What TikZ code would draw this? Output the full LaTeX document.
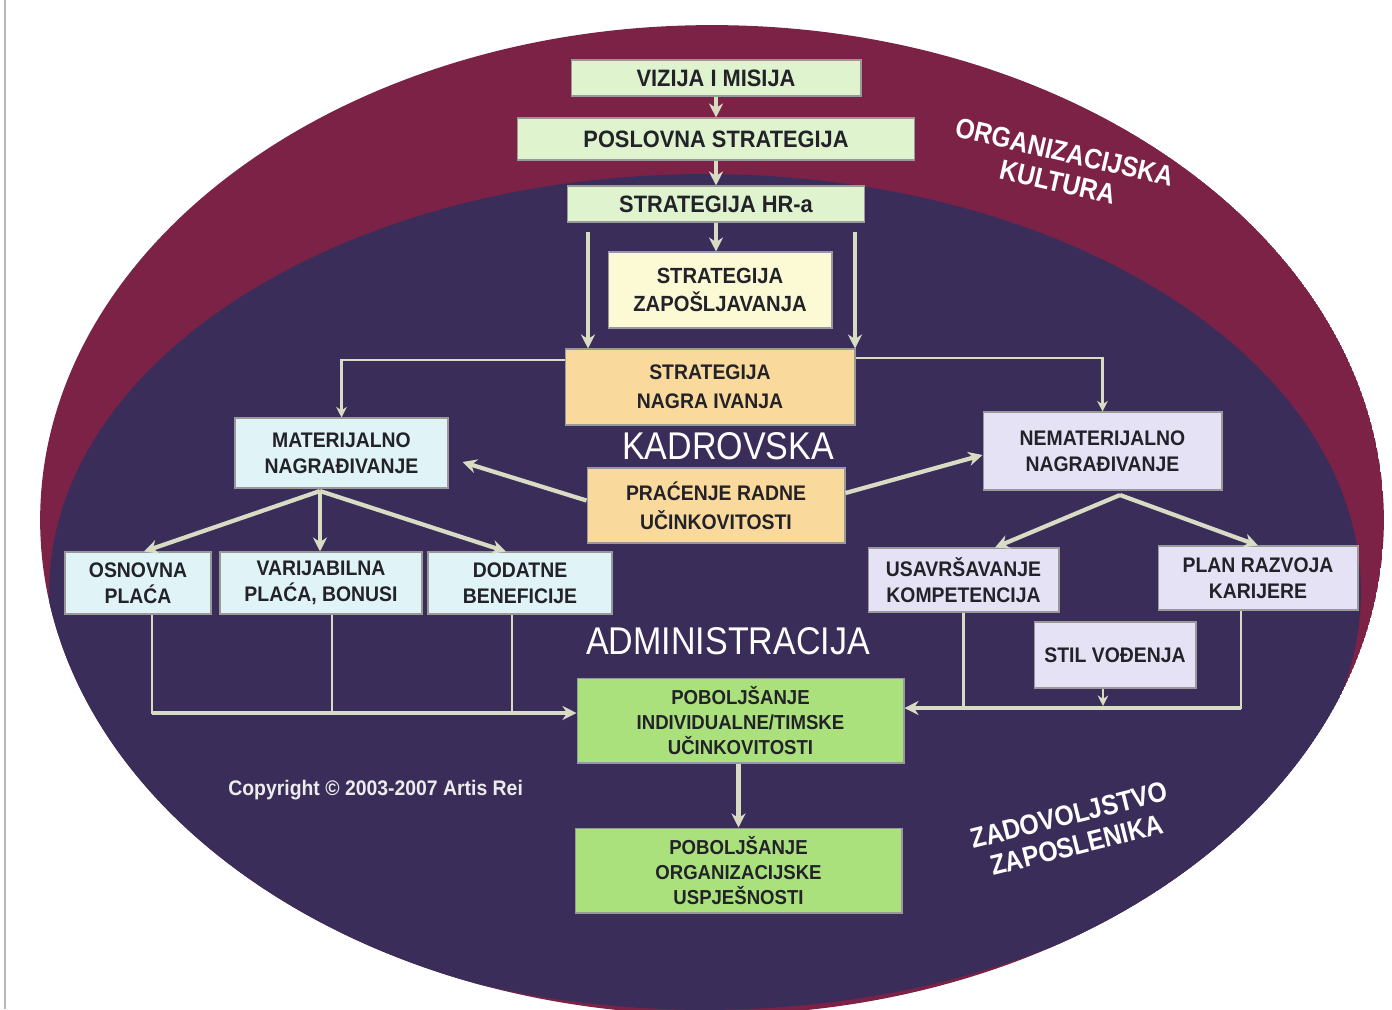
\documentclass[tikz,border=0pt]{standalone}
\usepackage{fontspec}
\setmainfont{Liberation Sans}
\newfontfamily\boxfont{Liberation Sans}[FakeStretch=0.92]
\newfontfamily\labelfont{Liberation Sans}[FakeStretch=0.88]
\usetikzlibrary{shapes, arrows.meta, positioning}

\definecolor{orgred}{RGB}{124,34,70}
\definecolor{hrnavy}{RGB}{59,45,90}
\definecolor{pgreen}{RGB}{222,243,206}
\definecolor{pyellow}{RGB}{252,250,212}
\definecolor{peach}{RGB}{249,218,156}
\definecolor{pcyan}{RGB}{224,244,248}
\definecolor{plilac}{RGB}{230,226,246}
\definecolor{mgreen}{RGB}{170,225,125}
\definecolor{arrowc}{RGB}{216,220,196}
\definecolor{ink}{RGB}{34,34,40}

\begin{document}
\begin{tikzpicture}[x=0.02cm, y=-0.02cm, >={Stealth[length=8pt, width=8pt]}, every node/.style={align=center, inner sep=0pt}]

    % Define block styles
    \tikzstyle{topbox} = [rectangle, fill=pgreen, draw=black!40, line width=0.6pt, text=ink, font=\boxfont\bfseries\fontsize{13.5}{16}\selectfont]
    \tikzstyle{hrbox} = [rectangle, draw=black!40, line width=0.6pt, text=ink, font=\boxfont\bfseries\fontsize{12}{14.5}\selectfont]
    \tikzstyle{biglabel} = [text=white, font=\labelfont\fontsize{22}{24}\selectfont]
    \tikzstyle{ringlabel} = [text=white, font=\labelfont\bfseries\fontsize{16}{17.5}\selectfont]
    \tikzstyle{flowarrow} = [line width=2.4pt, ->, draw=arrowc]
    \tikzstyle{flowline} = [line width=1.3pt, draw=arrowc, >={Stealth[length=6pt, width=6pt]}]

    % Background rings
    \useasboundingbox (0,0) rectangle (1392,1009);
    \fill[white] (0,0) rectangle (1392,1009);
    \draw[gray!55, line width=1pt] (5,0) -- (5,1009);
    \begin{scope}
        \clip (712,520) ellipse [x radius=13.44cm, y radius=9.9cm];
        \fill[orgred] (712,520) ellipse [x radius=13.44cm, y radius=9.9cm];
        \fill[hrnavy] (705,592) ellipse [x radius=13.12cm, y radius=8.36cm];
    \end{scope}

    % Place nodes
    \node (vision) [topbox, minimum width=5.8cm, minimum height=0.72cm] at (716,78) {VIZIJA I MISIJA};
    \node (business) [topbox, minimum width=7.94cm, minimum height=0.84cm, below of=vision, node distance=1.22cm] {POSLOVNA STRATEGIJA};
    \node (hrstrat) [topbox, minimum width=5.94cm, minimum height=0.72cm, below of=business, node distance=1.3cm] {STRATEGIJA HR-a};
    \node (hiring) [hrbox, fill=pyellow, minimum width=4.48cm, minimum height=1.52cm, font=\boxfont\bfseries\fontsize{12.5}{15.5}\selectfont] at (720,290) {STRATEGIJA\\ZAPOŠLJAVANJA};
    \node (reward) [hrbox, fill=peach, minimum width=5.8cm, minimum height=1.52cm, font=\boxfont\bfseries\fontsize{12}{16.5}\selectfont] at (710,387) {STRATEGIJA\\NAGRA IVANJA};
    \node (staffing) [biglabel] at (728,446) {KADROVSKA};
    \node (tracking) [hrbox, fill=peach, minimum width=5.16cm, minimum height=1.5cm, font=\boxfont\bfseries\fontsize{12}{16.5}\selectfont] at (716,505.5) {PRAĆENJE RADNE\\UČINKOVITOSTI};
    \node (material) [hrbox, fill=pcyan, minimum width=4.26cm, minimum height=1.4cm] at (341.5,453) {MATERIJALNO\\NAGRAĐIVANJE};
    \node (nonmaterial) [hrbox, fill=plilac, minimum width=4.78cm, minimum height=1.56cm] at (1102.5,451) {NEMATERIJALNO\\NAGRAĐIVANJE};
    \node (basepay) [hrbox, fill=pcyan, minimum width=2.92cm, minimum height=1.24cm] at (138,583) {OSNOVNA\\PLAĆA};
    \node (varpay) [hrbox, fill=pcyan, minimum width=4.04cm, minimum height=1.24cm] at (321,583) {VARIJABILNA\\PLAĆA, BONUSI};
    \node (benefits) [hrbox, fill=pcyan, minimum width=3.68cm, minimum height=1.24cm] at (520,583) {DODATNE\\BENEFICIJE};
    \node (training) [hrbox, fill=plilac, minimum width=3.82cm, minimum height=1.28cm] at (963.5,580) {USAVRŠAVANJE\\KOMPETENCIJA};
    \node (career) [hrbox, fill=plilac, minimum width=4cm, minimum height=1.28cm] at (1258,578) {PLAN RAZVOJA\\KARIJERE};
    \node (leading) [hrbox, fill=plilac, minimum width=3.24cm, minimum height=1.32cm] at (1115,655) {STIL VOĐENJA};
    \node (admin) [biglabel] at (728,641) {ADMINISTRACIJA};
    \node (teamperf) [hrbox, fill=mgreen, minimum width=6.54cm, minimum height=1.7cm, font=\boxfont\bfseries\fontsize{11.5}{14}\selectfont] at (740.5,720.5) {POBOLJŠANJE\\INDIVIDUALNE/TIMSKE\\UČINKOVITOSTI};
    \node (orgperf) [hrbox, fill=mgreen, minimum width=6.54cm, minimum height=1.7cm, font=\boxfont\bfseries\fontsize{11.5}{14}\selectfont] at (738.5,870.5) {POBOLJŠANJE\\ORGANIZACIJSKE\\USPJEŠNOSTI};
    \node (copyright) [anchor=west, text=white!85!gray, font=\boxfont\bfseries\fontsize{12}{14}\selectfont] at (228,790) {Copyright © 2003-2007 Artis Rei};
    \node (culture) [ringlabel, rotate=-13] at (1061,167) {ORGANIZACIJSKA\\KULTURA};
    \node (satisfaction) [ringlabel, rotate=14] at (1073,830) {ZADOVOLJSTVO\\ZAPOSLENIKA};

    % Free ends of the collecting lines
    \coordinate (hrleft) at (588,232);
    \coordinate (hrright) at (855,232);
    \coordinate (matfork) at (320,491);
    \coordinate (nonfork) at (1120,495);
    \coordinate (collectL) at (152,713);
    \coordinate (collectR) at (1241,708);
    \coordinate (leadfoot) at (1103,706);

    % Draw arrows
    \draw [flowarrow] (vision) -- (business);
    \draw [flowarrow] (business) -- (hrstrat);
    \draw [flowarrow] (hrstrat.south) -- (hrstrat.south |- hiring.north);
    \draw [flowarrow] (hrleft) -- (hrleft |- reward.north);
    \draw [flowarrow] (hrright) -- (hrright |- reward.north);
    \draw [flowline, ->] ([yshift=0.54cm]reward.west) -| (material.north);
    \draw [flowline, ->] ([yshift=0.58cm]reward.east) -| (nonmaterial.north);
    \draw [flowarrow] ([yshift=0.1cm]tracking.west) -- ([xshift=0.28cm, yshift=-0.18cm]material.east);
    \draw [flowarrow] ([yshift=0.25cm]tracking.east) -- ([yshift=-0.08cm]nonmaterial.west);
    \draw [flowarrow] (matfork) -- ([xshift=0.12cm]basepay.north);
    \draw [flowarrow] (matfork) -- (matfork |- varpay.north);
    \draw [flowarrow] (matfork) -- ([xshift=-0.28cm]benefits.north);
    \draw [flowarrow] (nonfork) -- ([xshift=0.63cm]training.north);
    \draw [flowarrow] (nonfork) -- (career.north);
    \draw [flowline] ([xshift=0.28cm]basepay.south) |- (collectL);
    \draw [flowline] ([xshift=0.22cm]varpay.south) |- (collectL);
    \draw [flowline] ([xshift=-0.16cm]benefits.south) |- (collectL);
    \draw [flowarrow] (collectL) -- (collectL -| teamperf.west);
    \draw [flowline] (training.south) |- (collectR);
    \draw [flowline] ([xshift=-0.34cm]career.south) |- (collectR);
    \draw [flowline, ->] (leading.south -| leadfoot) -- (leadfoot);
    \draw [flowarrow] (collectR) -- (collectR -| teamperf.east);
    \draw [flowarrow] (teamperf.south -| orgperf.north) -- (orgperf.north);

\end{tikzpicture}
\end{document}
